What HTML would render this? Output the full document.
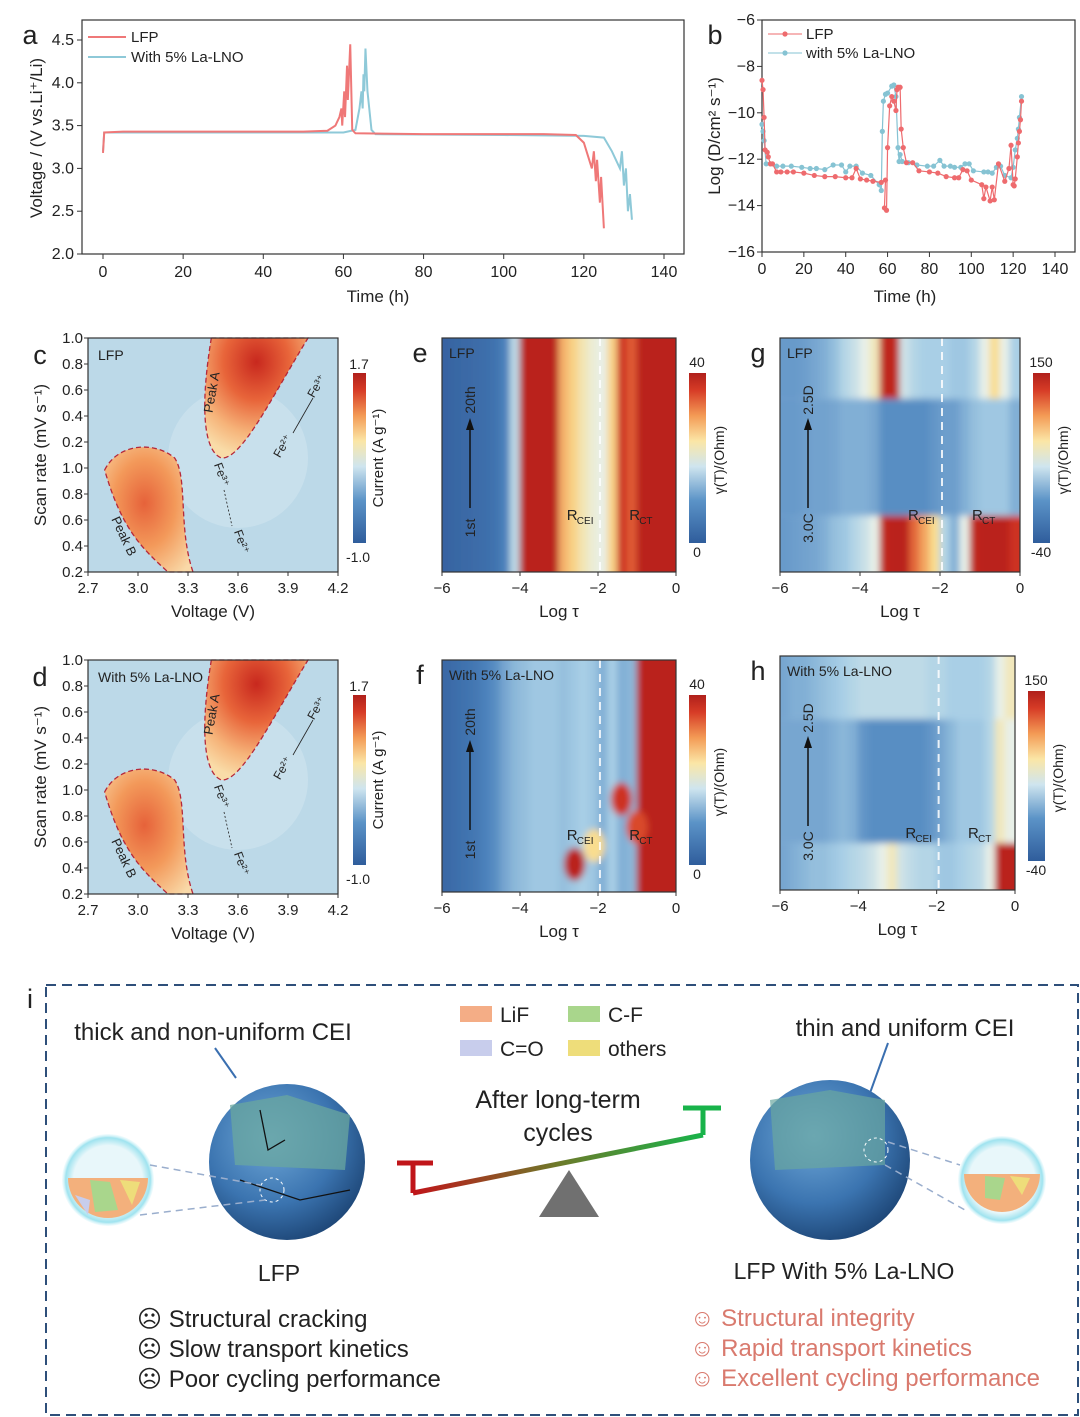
<!DOCTYPE html>
<html><head><meta charset="utf-8">
<style>
body{margin:0;background:#fff;}
svg{display:block;font-family:"Liberation Sans",sans-serif;}
text{fill:#222;}
</style></head>
<body>
<svg id="fig" width="1080" height="1417" viewBox="0 0 1080 1417">
<defs>
  <filter id="soft" x="-5%" y="-5%" width="110%" height="110%"><feGaussianBlur stdDeviation="3.5"/></filter>
  <linearGradient id="cbar" x1="0" y1="1" x2="0" y2="0">
    <stop offset="0" stop-color="#2f5d9c"/><stop offset="0.25" stop-color="#5b93c7"/>
    <stop offset="0.45" stop-color="#cfe5ef"/><stop offset="0.6" stop-color="#fbe6a6"/>
    <stop offset="0.75" stop-color="#f39a55"/><stop offset="0.9" stop-color="#d63b26"/>
    <stop offset="1" stop-color="#b0201b"/>
  </linearGradient>
  <radialGradient id="blobA" cx="0.5" cy="0.2" r="0.8">
    <stop offset="0" stop-color="#c8281e"/><stop offset="0.4" stop-color="#e8653a"/>
    <stop offset="0.75" stop-color="#f6b47a"/><stop offset="1" stop-color="#f9dca8"/>
  </radialGradient>
  <radialGradient id="blobB" cx="0.45" cy="0.45" r="0.7">
    <stop offset="0" stop-color="#e6623a"/><stop offset="0.5" stop-color="#f3995a"/>
    <stop offset="1" stop-color="#f9d9a8"/>
  </radialGradient>
  <radialGradient id="sph" cx="0.4" cy="0.35" r="0.7">
    <stop offset="0" stop-color="#6fa8d8"/><stop offset="0.6" stop-color="#3b74b0"/><stop offset="1" stop-color="#1c4474"/>
  </radialGradient>
  <radialGradient id="mag" cx="0.5" cy="0.5" r="0.5">
    <stop offset="0.75" stop-color="#e8f7fa"/><stop offset="0.92" stop-color="#9fe3ef"/><stop offset="1" stop-color="#d8f5fa" stop-opacity="0.3"/>
  </radialGradient>
  <linearGradient id="beam" x1="0" y1="0" x2="1" y2="0">
    <stop offset="0" stop-color="#c0151a"/><stop offset="0.5" stop-color="#6d7a2a"/><stop offset="1" stop-color="#18b34a"/>
  </linearGradient>
</defs>
<g id="root"></g>
</svg>
<script>
// ---------- Panel a data ----------
const aTimeLFP=[0,0.3,5,50,56,58,59,59.5,59.7,60.2,60.4,60.9,61.1,61.7,62.2,63,80,110,118,120,121,122,122.5,123,123.3,124,124.3,125];
const aVoltLFP=[3.18,3.42,3.43,3.43,3.44,3.5,3.6,3.7,3.5,3.9,3.6,4.2,3.8,4.45,3.45,3.41,3.4,3.4,3.39,3.3,3.15,3.0,3.2,2.85,3.1,2.6,2.9,2.3];
const aTimeLa=[0,0.3,60,63,64,64.5,64.8,65,65.2,65.5,66,67,68,100,120,125,127,129,129.5,130,130.5,131,131.5,132];
const aVoltLa=[3.2,3.42,3.42,3.45,3.7,3.9,3.7,4.1,3.9,4.4,3.9,3.45,3.4,3.39,3.38,3.36,3.2,3.0,3.2,2.8,3.0,2.5,2.7,2.4];
const aXTicks=[0,20,40,60,80,100,120,140];
const aYTicks=[2.0,2.5,3.0,3.5,4.0,4.5];
// ---------- Panel b data ----------
const bTimeLFP=[0,0.5,1,1.5,2.5,3,4,5,7,9,12,15,20,25,30,35,40,43,45,47,50,53,57,59,58.5,59.5,60,61,62,63,64,64.5,65,66,66.5,67.5,69,72,75,80,84,88,92,94,96,98,100,105,106,107,109,110,111,113,116,118,119,120,120.5,121,122,122.5,123,123.5,124];
const bLogDLFP=[-8.6,-9,-10.2,-11.6,-11.7,-11.9,-12.2,-12.2,-12.55,-12.55,-12.55,-12.55,-12.6,-12.7,-12.75,-12.75,-12.8,-12.8,-12.4,-12.85,-12.9,-12.95,-13,-12.9,-14.1,-14.2,-11.5,-9.7,-9.3,-9.5,-9.9,-9,-8.9,-8.9,-10.7,-11.5,-12.15,-12.15,-12.5,-12.55,-12.6,-12.75,-12.8,-12.8,-12.45,-12.5,-12.9,-13.1,-13.7,-13.2,-13.8,-13.2,-13.75,-12.2,-12.95,-12.4,-11.4,-13.1,-13.15,-12.85,-11.9,-11.3,-10.8,-10.3,-9.5];
const bTimeLa=[0,0.5,1,2,4,7,10,14,19,23,26,30,34,38,40,42,45,48,52,56,57,57.5,58,59,60,62,63,64,65,65.5,66,67,70,74,79,82,85,87,90,92,95,97,99,101,106,108,110,112,114,116,119,120,121,122,122.5,123,124];
const bLogDLa=[-10.5,-10.8,-11.2,-12.2,-12.2,-12.3,-12.3,-12.3,-12.35,-12.4,-12.4,-12.45,-12.25,-12.25,-12.55,-12.3,-12.3,-12.6,-12.7,-13.1,-13.35,-10.8,-9.5,-9.2,-9.15,-8.85,-8.8,-9.3,-11.5,-12.1,-11.8,-12.1,-12.15,-12.25,-12.3,-12.3,-12.05,-12.3,-12.3,-12.35,-12.35,-12.2,-12.2,-12.5,-12.55,-12.55,-12.6,-12.35,-12.3,-12.7,-12.8,-12.35,-11.6,-11.1,-10.7,-10.2,-9.3];
const bXTicks=[0,20,40,60,80,100,120,140];
const bYTicks=[-6,-8,-10,-12,-14,-16];
// ---------- DRT heatmaps (normalized 0..1, columns every 0.25 of log tau from -6 to 0) ----------
const eCols=[0.06,0.07,0.08,0.09,0.1,0.12,0.18,0.42,0.97,0.97,0.97,0.97,0.68,0.62,0.56,0.52,0.5,0.62,0.9,0.82,0.97,0.97,0.97,0.97];
const fCols=[0.08,0.1,0.12,0.14,0.18,0.22,0.28,0.32,0.34,0.36,0.36,0.36,0.34,0.36,0.38,0.36,0.3,0.38,0.3,0.32,0.97,0.97,0.97,0.97];
const gTop=[0.25,0.25,0.26,0.28,0.3,0.34,0.4,0.44,0.5,0.55,0.95,0.95,0.45,0.4,0.38,0.38,0.38,0.36,0.36,0.4,0.5,0.6,0.5,0.38];
const gMid=[0.25,0.25,0.26,0.27,0.27,0.28,0.3,0.3,0.3,0.28,0.22,0.22,0.22,0.22,0.22,0.24,0.26,0.26,0.3,0.34,0.36,0.36,0.36,0.3];
const gBot=[0.25,0.26,0.27,0.28,0.3,0.34,0.36,0.4,0.44,0.5,0.95,0.97,0.97,0.8,0.7,0.6,0.4,0.3,0.5,0.95,0.97,0.97,0.97,0.9];
const hTop=[0.28,0.3,0.3,0.32,0.34,0.36,0.38,0.4,0.42,0.42,0.42,0.42,0.42,0.42,0.42,0.4,0.4,0.38,0.38,0.38,0.38,0.4,0.5,0.55];
const hMid=[0.28,0.28,0.28,0.28,0.28,0.3,0.32,0.3,0.24,0.22,0.22,0.22,0.22,0.22,0.22,0.24,0.28,0.32,0.36,0.36,0.36,0.4,0.55,0.5];
const hBot=[0.28,0.3,0.32,0.34,0.34,0.36,0.38,0.4,0.42,0.45,0.5,0.55,0.45,0.42,0.4,0.4,0.36,0.36,0.38,0.4,0.42,0.5,0.97,0.97];
const fBlobs=[[-2.6,0.88,0.97],[-1.4,0.6,0.9],[-1.0,0.72,0.85],[-2.1,0.8,0.6]];
const logTicks=[-6,-4,-2,0];
const cvXTicks=[2.7,3.0,3.3,3.6,3.9,4.2];
const cvYTicks=["1.0","0.8","0.6","0.4","0.2","1.0","0.8","0.6","0.4","0.2"];

const NS="http://www.w3.org/2000/svg";
const root=document.getElementById('root');
const defs=document.querySelector('defs');
function E(tag,attrs,parent,txt){const e=document.createElementNS(NS,tag);for(const k in attrs)e.setAttribute(k,attrs[k]);if(txt!==undefined)e.textContent=txt;(parent||root).appendChild(e);return e;}
function T(x,y,s,size,anchor,parent,extra){const a={x:x,y:y,'font-size':size||15,'text-anchor':anchor||'middle'};if(extra)for(const k in extra)a[k]=extra[k];const t=E('text',a,parent,s);return t;}
function lin(d0,d1,r0,r1){return v=>r0+(v-d0)*(r1-r0)/(d1-d0);}
const stops=[[0,[44,86,150]],[0.2,[79,134,191]],[0.38,[169,207,230]],[0.5,[232,240,232]],[0.6,[249,221,143]],[0.75,[240,138,74]],[0.88,[210,52,35]],[1,[178,30,26]]];
function cmap(v){v=Math.max(0,Math.min(1,v));for(let i=1;i<stops.length;i++){if(v<=stops[i][0]){const a=stops[i-1],b=stops[i],t=(v-a[0])/(b[0]-a[0]);const c=a[1].map((x,j)=>Math.round(x+(b[1][j]-x)*t));return `rgb(${c})`;}}return 'rgb(178,30,26)';}

// ===== Panel a =====
(function(){
const g=E('g',{});  
const x=lin(0,140,103,664), y=lin(2.0,4.5,254,40);
E('rect',{x:82,y:20,width:602,height:234,fill:'none',stroke:'#333','stroke-width':1.2},g);
aXTicks.forEach(v=>{E('line',{x1:x(v),x2:x(v),y1:254,y2:259,stroke:'#333'},g);T(x(v),277,v,16,'middle',g);});
aYTicks.forEach(v=>{E('line',{x1:77,x2:82,y1:y(v),y2:y(v),stroke:'#333'},g);T(74,y(v)+5,v.toFixed(1),16,'end',g);});
const pl=(xs,ys,c,n)=>{const p=E('polyline',{points:xs.map((t,i)=>x(t)+','+y(ys[i])).join(' '),fill:'none',stroke:c,'stroke-width':2},g);};
pl(aTimeLa,aVoltLa,'#8ec9d8','series-la-lno');
pl(aTimeLFP,aVoltLFP,'#ef7878','series-lfp');
T(378,302,'Time (h)',17,'middle',g);
T(0,0,'Voltage / (V vs.Li\u207A/Li)',17,'middle',g,{transform:'translate(42,138) rotate(-90)'});
T(30,44,'a',27,'middle',g);
E('line',{x1:88,x2:126,y1:37,y2:37,stroke:'#ef7878','stroke-width':2},g);T(131,42,'LFP',15,'start',g);
E('line',{x1:88,x2:126,y1:57,y2:57,stroke:'#8ec9d8','stroke-width':2},g);T(131,62,'With 5% La-LNO',15,'start',g);
})();

// ===== Panel b =====
(function(){
const g=E('g',{});  
const x=lin(0,140,762,1055), y=lin(-6,-16,20,252);
E('rect',{x:762,y:20,width:313,height:232,fill:'none',stroke:'#333','stroke-width':1.2},g);
bXTicks.forEach(v=>{E('line',{x1:x(v),x2:x(v),y1:252,y2:257,stroke:'#333'},g);T(x(v),274,v,16,'middle',g);});
bYTicks.forEach(v=>{E('line',{x1:757,x2:762,y1:y(v),y2:y(v),stroke:'#333'},g);T(755,y(v)+5,'\u2212'+Math.abs(v),16,'end',g);});
const series=(xs,ys,c,n)=>{const s=E('g',{},g);
E('polyline',{points:xs.map((t,i)=>x(t)+','+y(ys[i])).join(' '),fill:'none',stroke:c,'stroke-width':1.2},s);
xs.forEach((t,i)=>E('circle',{cx:x(t),cy:y(ys[i]),r:2.6,fill:c},s));};
series(bTimeLa,bLogDLa,'#86c3d3','series-la-lno');
series(bTimeLFP,bLogDLFP,'#ee6b6e','series-lfp');
T(905,302,'Time (h)',17,'middle',g);
T(0,0,'Log (D/cm\u00B2 s\u207B\u00B9)',17,'middle',g,{transform:'translate(720,136) rotate(-90)'});
T(715,44,'b',27,'middle',g);
E('line',{x1:768,x2:802,y1:34,y2:34,stroke:'#ee6b6e'},g);E('circle',{cx:785,cy:34,r:2.6,fill:'#ee6b6e'},g);T(806,39,'LFP',15,'start',g);
E('line',{x1:768,x2:802,y1:53,y2:53,stroke:'#86c3d3'},g);E('circle',{cx:785,cy:53,r:2.6,fill:'#86c3d3'},g);T(806,58,'with 5% La-LNO',15,'start',g);
})();

// ===== Panels c, d (CV contours) =====
function cvPanel(ox,oy,letter,label,ident){
const g=E('g',{});  
const W=250,H=234, x=lin(2.7,4.2,ox,ox+W);
E('rect',{x:ox,y:oy,width:W,height:H,fill:'#bcd9e8'},g);
E('ellipse',{cx:ox+150,cy:oy+120,rx:70,ry:70,fill:'#cde3ee',opacity:0.7},g);
const A=`M${x(3.44)},${oy} C${x(3.38)},${oy+60} ${x(3.38)},${oy+112} ${x(3.5)},${oy+120} C${x(3.62)},${oy+122} ${x(3.8)},${oy+60} ${x(4.02)},${oy} Z`;
E('path',{d:A,fill:'url(#blobA)',stroke:'#b5283a','stroke-width':1.3,'stroke-dasharray':'5,3'},g);
const B=`M${x(2.8)},${oy+132} C${x(2.88)},${oy+105} ${x(3.1)},${oy+103} ${x(3.22)},${oy+120} C${x(3.3)},${oy+140} ${x(3.24)},${oy+190} ${x(3.33)},${oy+H} L${x(3.18)},${oy+H} C${x(3.02)},${oy+210} ${x(2.9)},${oy+190} ${x(2.8)},${oy+132} Z`;
E('path',{d:B,fill:'url(#blobB)',stroke:'#b5283a','stroke-width':1.3,'stroke-dasharray':'5,3'},g);
E('rect',{x:ox,y:oy,width:W,height:H,fill:'none',stroke:'#333','stroke-width':1.2},g);
cvXTicks.forEach(v=>{E('line',{x1:x(v),x2:x(v),y1:oy+H,y2:oy+H+4,stroke:'#333'},g);T(x(v),oy+H+21,v.toFixed(1),15,'middle',g);});
cvYTicks.forEach((s,i)=>{const yy=oy+i*(H/9);E('line',{x1:ox-4,x2:ox,y1:yy,y2:yy,stroke:'#333'},g);T(ox-5,yy+5,s,15,'end',g);});
T(ox+W/2,oy+H+45,'Voltage (V)',17,'middle',g);
T(0,0,'Scan rate (mV s\u207B\u00B9)',17,'middle',g,{transform:`translate(${ox-42},${oy+H/2}) rotate(-90)`});
T(ox-48,oy+26,letter,27,'middle',g);
T(ox+10,oy+22,label,14,'start',g);
T(0,0,'Peak A',13,'middle',g,{transform:`translate(${ox+128},${oy+55}) rotate(-80)`});
T(0,0,'Peak B',13,'middle',g,{transform:`translate(${ox+32},${oy+200}) rotate(65)`});
T(0,0,'Fe\u00B2\u207A',12,'middle',g,{transform:`translate(${ox+198},${oy+110}) rotate(-60)`});
T(0,0,'Fe\u00B3\u207A',12,'middle',g,{transform:`translate(${ox+232},${oy+50}) rotate(-60)`});
E('line',{x1:ox+205,y1:oy+95,x2:ox+225,y2:oy+60,stroke:'#222','stroke-width':0.8},g);
T(0,0,'Fe\u00B3\u207A',12,'middle',g,{transform:`translate(${ox+130},${oy+138}) rotate(70)`});
T(0,0,'Fe\u00B2\u207A',12,'middle',g,{transform:`translate(${ox+150},${oy+205}) rotate(70)`});
E('line',{x1:ox+136,y1:oy+152,x2:ox+144,y2:oy+188,stroke:'#222','stroke-width':0.8,'stroke-dasharray':'2,2'},g);
E('rect',{x:ox+265,y:oy+35,width:13,height:170,fill:'url(#cbar)'},g);
T(ox+271,oy+31,'1.7',14,'middle',g);T(ox+270,oy+224,'-1.0',14,'middle',g);
T(0,0,'Current (A g\u207B\u00B9)',15,'middle',g,{transform:`translate(${ox+295},${oy+120}) rotate(-90)`});
}
cvPanel(88,338,'c','LFP','panel-c-cv-contour-lfp');
cvPanel(88,660,'d','With 5% La-LNO','panel-d-cv-contour-la-lno');

// ===== DRT heatmaps =====
let clipN=0;
function drt(ox,oy,W,H,bands,letter,label,ident,maxLbl,minLbl,lowLbl,highLbl,blobs){
const g=E('g',{});  
const x=lin(-6,0,ox,ox+W);
const cid='clip'+(clipN++);
const cp=E('clipPath',{id:cid},defs);E('rect',{x:ox,y:oy,width:W,height:H},cp);
const outer=E('g',{'clip-path':`url(#${cid})`},g);
const hm=E('g',{filter:'url(#soft)'},outer);
bands.forEach(b=>{b.cols.forEach((v,i)=>{const r=E('rect',{x:x(-6+i*0.25)-(i===0?8:0.5),y:oy+b.y0*H-(b.y0===0?8:0),width:W/24+1+(i===0||i===23?8:0),height:(b.y1-b.y0)*H+(b.y0===0?8:0)+(b.y1===1?8:0),fill:cmap(v)},hm);});});
if(blobs)blobs.forEach(b=>{const c=E('ellipse',{cx:x(b[0]),cy:oy+b[1]*H,rx:W/22,ry:H/14,fill:cmap(b[2])},hm);});
E('line',{x1:x(-1.95),x2:x(-1.95),y1:oy,y2:oy+H,stroke:'#fff','stroke-width':2,'stroke-dasharray':'8,6',opacity:0.85},g);
E('rect',{x:ox,y:oy,width:W,height:H,fill:'none',stroke:'#333','stroke-width':1.2},g);
logTicks.forEach(v=>{E('line',{x1:x(v),x2:x(v),y1:oy+H,y2:oy+H+4,stroke:'#333'},g);T(x(v),oy+H+21,v===0?'0':'\u2212'+Math.abs(v),15,'middle',g);});
T(ox+W/2,oy+H+45,'Log \u03C4',17,'middle',g);
T(ox-22,oy+24,letter,27,'middle',g);
T(ox+7,oy+20,label,14,'start',g);
E('line',{x1:ox+28,x2:ox+28,y1:oy+170,y2:oy+88,stroke:'#111','stroke-width':1.5},g);
E('path',{d:`M${ox+24},${oy+92} L${ox+28},${oy+80} L${ox+32},${oy+92} Z`,fill:'#111'},g);
T(0,0,highLbl,14,'middle',g,{transform:`translate(${ox+33},${oy+62}) rotate(-90)`});
T(0,0,lowLbl,14,'middle',g,{transform:`translate(${ox+33},${oy+190}) rotate(-90)`});
T(x(-2.8),oy+H-52,'R',15,'start',g);T(x(-2.8)+10,oy+H-48,'CEI',10,'start',g);
T(x(-1.2),oy+H-52,'R',15,'start',g);T(x(-1.2)+10,oy+H-48,'CT',10,'start',g);
E('rect',{x:ox+W+13,y:oy+35,width:17,height:170,fill:'url(#cbar)'},g);
T(ox+W+21,oy+29,maxLbl,14,'middle',g);T(ox+W+21,oy+219,minLbl,14,'middle',g);
T(0,0,'\u03B3(T)/(Ohm)',14,'middle',g,{transform:`translate(${ox+W+48},${oy+122}) rotate(-90)`});
}
drt(442,338,234,234,[{y0:0,y1:1,cols:eCols}],'e','LFP','panel-e-drt-lfp-cycles','40','0','1st','20th');
drt(442,660,234,232,[{y0:0,y1:1,cols:fCols}],'f','With 5% La-LNO','panel-f-drt-la-lno-cycles','40','0','1st','20th',fBlobs);
drt(780,338,240,234,[{y0:0,y1:0.26,cols:gTop},{y0:0.26,y1:0.76,cols:gMid},{y0:0.76,y1:1,cols:gBot}],'g','LFP','panel-g-drt-lfp-rates','150','-40','3.0C','2.5D');
drt(780,656,235,234,[{y0:0,y1:0.27,cols:hTop},{y0:0.27,y1:0.8,cols:hMid},{y0:0.8,y1:1,cols:hBot}],'h','With 5% La-LNO','panel-h-drt-la-lno-rates','150','-40','3.0C','2.5D');

// ===== Panel i schematic =====
(function(){
const g=E('g',{});  
E('rect',{x:46,y:985,width:1032,height:430,fill:'none',stroke:'#2e4f7a','stroke-width':2,'stroke-dasharray':'10,6'},g);
T(30,1008,'i',27,'middle',g);
T(213,1040,'thick and non-uniform CEI',24,'middle',g);
T(905,1036,'thin and uniform CEI',24,'middle',g);
[[460,1006,'#f4ad86','LiF'],[568,1006,'#a9d68c','C-F'],[460,1040,'#c8cdec','C=O'],[568,1040,'#eedd7a','others']].forEach(l=>{E('rect',{x:l[0],y:l[1],width:32,height:16,fill:l[2]},g);T(l[0]+40,l[1]+16,l[3],21,'start',g);});
T(558,1108,'After long-term',25,'middle',g);T(558,1141,'cycles',25,'middle',g);
E('circle',{cx:287,cy:1162,r:78,fill:'url(#sph)'},g);
E('path',{d:'M230,1105 L287,1095 L350,1115 L345,1170 L235,1165 Z',fill:'#6aa79f',opacity:0.75},g);
E('path',{d:'M260,1110 L268,1150 L285,1140 M240,1180 L300,1200 L350,1190',fill:'none',stroke:'#111','stroke-width':1.3},g);
E('circle',{cx:272,cy:1190,r:12,fill:'none',stroke:'#fff','stroke-dasharray':'3,3'},g);
E('line',{x1:236,y1:1078,x2:215,y2:1048,stroke:'#3a6fb0','stroke-width':2},g);
E('circle',{cx:830,cy:1160,r:80,fill:'url(#sph)'},g);
E('path',{d:'M770,1100 L830,1090 L885,1100 L885,1165 L775,1170 Z',fill:'#6aa79f',opacity:0.7},g);
E('circle',{cx:876,cy:1150,r:12,fill:'none',stroke:'#fff','stroke-dasharray':'3,3'},g);
E('line',{x1:870,y1:1093,x2:888,y2:1043,stroke:'#3a6fb0','stroke-width':2},g);
E('circle',{cx:108,cy:1180,r:46,fill:'url(#mag)'},g);
E('path',{d:'M68,1178 L148,1178 A40,40 0 0 1 68,1178 Z',fill:'#f3b07c'},g);
E('path',{d:'M90,1180 L110,1182 L118,1210 L95,1212 Z',fill:'#a9d68c'},g);
E('path',{d:'M120,1180 L140,1182 L132,1205 Z',fill:'#eedd7a'},g);
E('path',{d:'M75,1195 L90,1200 L88,1215 Z',fill:'#c8cdec'},g);
E('line',{x1:150,y1:1165,x2:260,y2:1185,stroke:'#9aaecd','stroke-width':1.5,'stroke-dasharray':'7,5'},g);
E('line',{x1:140,y1:1215,x2:265,y2:1200,stroke:'#9aaecd','stroke-width':1.5,'stroke-dasharray':'7,5'},g);
E('circle',{cx:1002,cy:1180,r:44,fill:'url(#mag)'},g);
E('path',{d:'M964,1174 L1040,1174 A38,38 0 0 1 964,1174 Z',fill:'#f3b07c'},g);
E('path',{d:'M985,1176 L1005,1178 L1000,1200 L985,1198 Z',fill:'#a9d68c'},g);
E('path',{d:'M1010,1176 L1030,1178 L1022,1195 Z',fill:'#eedd7a'},g);
E('line',{x1:888,y1:1142,x2:960,y2:1165,stroke:'#9aaecd','stroke-width':1.5,'stroke-dasharray':'7,5'},g);
E('line',{x1:885,y1:1165,x2:965,y2:1210,stroke:'#9aaecd','stroke-width':1.5,'stroke-dasharray':'7,5'},g);
E('path',{d:'M413,1193 L703,1135',stroke:'url(#beam)','stroke-width':5,fill:'none'},g);
E('path',{d:'M413,1193 L413,1163 M397,1163 L433,1163',stroke:'#c0151a','stroke-width':5,fill:'none'},g);
E('path',{d:'M703,1135 L703,1108 M683,1108 L721,1108',stroke:'#18b34a','stroke-width':5,fill:'none'},g);
E('path',{d:'M539,1217 L569,1170 L599,1217 Z',fill:'#707070'},g);
T(279,1281,'LFP',23,'middle',g);
T(844,1279,'LFP With 5% La-LNO',23,'middle',g);
['Structural cracking','Slow transport kinetics','Poor cycling performance'].forEach((s,i)=>T(137,1327+i*30,'\u2639 '+s,24,'start',g));
['Structural integrity','Rapid transport kinetics','Excellent cycling performance'].forEach((s,i)=>T(690,1326+i*30,'\u263A '+s,24,'start',g,{style:'fill:#d97a6e'}));
})();
</script>
</body></html>
